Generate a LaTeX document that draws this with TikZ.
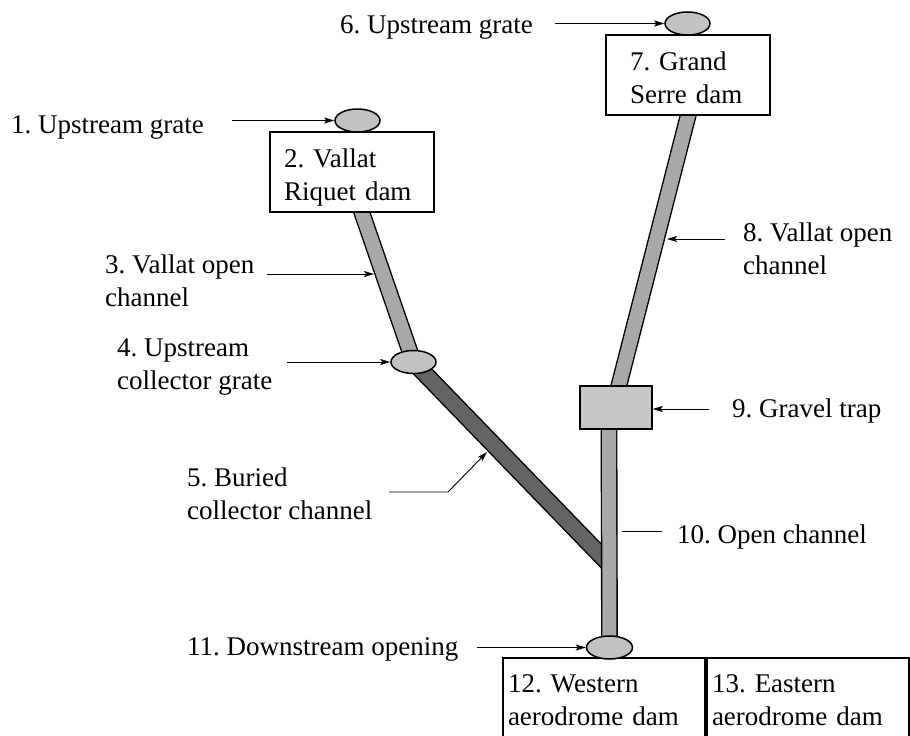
\documentclass[tikz,border=0pt]{standalone}
\usepackage{fontspec}
\setmainfont{Liberation Serif}
\usetikzlibrary{arrows.meta,backgrounds,shapes.geometric}
\definecolor{chanfill}{HTML}{A8A8A8}
\definecolor{buriedfill}{HTML}{646464}
\definecolor{gratefill}{HTML}{C2C2C2}
\definecolor{trapfill}{HTML}{C6C6C6}
\frenchspacing

\begin{document}
\begin{tikzpicture}[x=1pt,y=-1pt,
  every node/.style={font=\fontsize{27}{33}\selectfont},
  % multi-line labels are placed by the baseline of their last line
  lbl/.style={inner sep=0pt, anchor=base west, align=left},
  grate/.style={draw, line width=1.5pt, fill=gratefill, ellipse,
    minimum width=45pt, minimum height=23pt, inner sep=0pt},
  dambox/.style={draw, line width=2pt, fill=white, align=left, inner ysep=0pt},
  trapbox/.style={draw, line width=1.5pt, fill=trapfill, inner sep=0pt,
    minimum width=72pt, minimum height=43pt},
  chan/.style={draw=black, line width=1.4pt, double=chanfill, double distance=14pt},
  buried/.style={draw=black, line width=1.4pt, double=buriedfill, double distance=15pt},
  ptr/.style={line width=0.9pt, -{Stealth[length=10pt,width=6pt,inset=2pt]}},
  pline/.style={line width=0.9pt}
]
\useasboundingbox (0,0) rectangle (910,736);

% dams
\node[dambox, minimum height=80pt, inner xsep=14pt, text width=136pt,
      text height=25pt, text depth=35pt] (b2) at (352,172) {2. Vallat\\Riquet dam};
\node[dambox, minimum height=80pt, inner xsep=24pt, text width=116pt,
      text height=25pt, text depth=35pt] (b7) at (688,75) {7. Grand\\Serre dam};
\node[dambox, minimum height=100pt, inner xsep=5pt, text width=192pt,
      text height=22pt, text depth=54pt] (b12) at (604,708) {12. Western\\aerodrome dam};
\node[dambox, minimum height=100pt, inner xsep=5pt, text width=192pt,
      text height=22pt, text depth=54pt] (b13) at (808,708) {13. Eastern\\aerodrome dam};

% grates and gravel trap
\node[grate] (g1) at (357.5,120.5) {};
\node[grate] (g6) at (687.5,23.5) {};
\node[grate] (g4) at (413.5,362) {};
\node[grate, minimum width=46pt] (g11) at (609.5,647.5) {};
\node[trapbox] (t9) at (616,407.5) {};

% channels, underneath the structures
\coordinate (j) at (609,564);
\begin{scope}[on background layer]
  \fill[white] (0,0) rectangle (910,736);
  \draw[buried] (g4.center) -- (j);
  \draw[chan, shorten <=-4pt] ([xshift=-7pt]t9.south) -- (g11.center);
  \draw[chan, shorten <=-6pt] ([xshift=10pt]b2.south) -- (g4.center);
  \draw[chan, shorten <=-6pt, shorten >=-6pt] (b7.south) -- ([xshift=3pt]t9.north);
\end{scope}

% labels
\node[lbl] (l1) at (11,133) {1. Upstream grate};
\node[lbl] (l6) at (340,33) {6. Upstream grate};
\node[lbl] (l3) at (105,306) {3. Vallat open\\channel};
\node[lbl] (l4) at (117,389) {4. Upstream\\collector grate};
\node[lbl] (l5) at (187,519) {5. Buried\\collector channel};
\node[lbl] (l8) at (743,274) {8. Vallat open\\channel};
\node[lbl] (l9) at (732,417) {9. Gravel trap};
\node[lbl] (l10) at (677,543) {10. Open channel};
\node[lbl] (l11) at (187,655) {11. Downstream opening};

% pointers
\coordinate (p1) at (232,120.5);
\draw[ptr] (p1) -- (p1 -| g1.west);
\coordinate (p6) at (555,23.5);
\draw[ptr] (p6) -- (p6 -| g6.west);
\coordinate (p3) at (267,274);
\coordinate (c3) at (374,274);
\draw[ptr] (p3) -- (c3);
\coordinate (p4) at (287,362);
\draw[ptr] (p4) -- (p4 -| g4.west);
\coordinate (p5) at (389,492);
\coordinate (k5) at (448,492);
\coordinate (c5) at (487,452);
\draw[ptr] (p5) -- (k5) -- (c5);
\coordinate (p8) at (725,239);
\coordinate (c8) at (667,239);
\draw[ptr] (p8) -- (c8);
\coordinate (p9) at (709,409);
\draw[ptr] (p9) -- (p9 -| t9.east);
\coordinate (p10) at (662,531);
\coordinate (c10) at (622,531);
\draw[pline] (p10) -- (c10);
\coordinate (p11) at (477,647.5);
\draw[ptr] (p11) -- (p11 -| g11.west);
\end{tikzpicture}
\end{document}
